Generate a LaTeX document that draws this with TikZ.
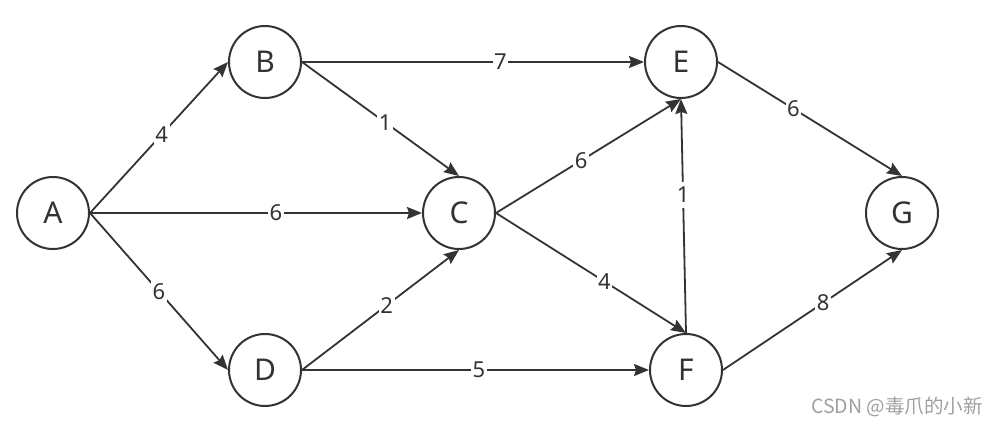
\documentclass[tikz,border=0pt]{standalone}
\usepackage{fontspec}
\setmainfont{Noto Sans}
\newfontfamily\cjk{Noto Sans CJK SC}
\usetikzlibrary{arrows.meta}
\definecolor{ink}{HTML}{333333}
\begin{document}
\begin{tikzpicture}[x=1pt,y=-1pt,
  vert/.style={circle,draw=ink,line width=2pt,minimum size=72pt,inner sep=0pt,font=\fontsize{30}{30}\selectfont,text=ink},
  edge/.style={draw=ink,line width=1.8pt,-{Stealth[length=15pt,width=12pt,inset=2pt]}},
  lbl/.style={fill=white,inner xsep=1.5pt,inner ysep=5pt,font=\fontsize{22}{22}\selectfont,text=ink}]
\useasboundingbox (0,0) rectangle (997,426);
\node[vert] (A) at (53,213) {A};
\node[vert] (B) at (265,62) {B};
\node[vert] (C) at (459,213) {C};
\node[vert] (D) at (265,370) {D};
\node[vert] (E) at (681,62) {E};
\node[vert] (F) at (686,370) {F};
\node[vert] (G) at (902,213) {G};
\draw[edge] (A.east) -- node[lbl,pos=0.52] {4} (B.west);
\draw[edge] (A.east) -- node[lbl,pos=0.56] {6} (C.west);
\draw[edge] (A.east) -- node[lbl,pos=0.5] {6} (D.west);
\draw[edge] (B.east) -- node[lbl,pos=0.58] {7} (E.west);
\draw[edge] (B.east) -- node[lbl,pos=0.53] {1} (C.north);
\draw[edge] (D.east) -- node[lbl,pos=0.54] {2} (C.south);
\draw[edge] (D.east) -- node[lbl,pos=0.51] {5} (F.west);
\draw[edge] (C.east) -- node[lbl,pos=0.46] {6} (E.south);
\draw[edge] (C.east) -- node[lbl,pos=0.57] {4} (F.north);
\draw[edge] (F.north) -- node[lbl,pos=0.59] {1} (E.south);
\draw[edge] (E.east) -- node[lbl,pos=0.41] {6} (G.north);
\draw[edge] (F.east) -- node[lbl,pos=0.56] {8} (G.south);
\node[anchor=east,text=gray!75,font=\cjk\fontsize{19.5}{19.5}\selectfont,inner sep=0pt] (wm) at (983,407) {CSDN @毒爪的小新};
\end{tikzpicture}
\end{document}
